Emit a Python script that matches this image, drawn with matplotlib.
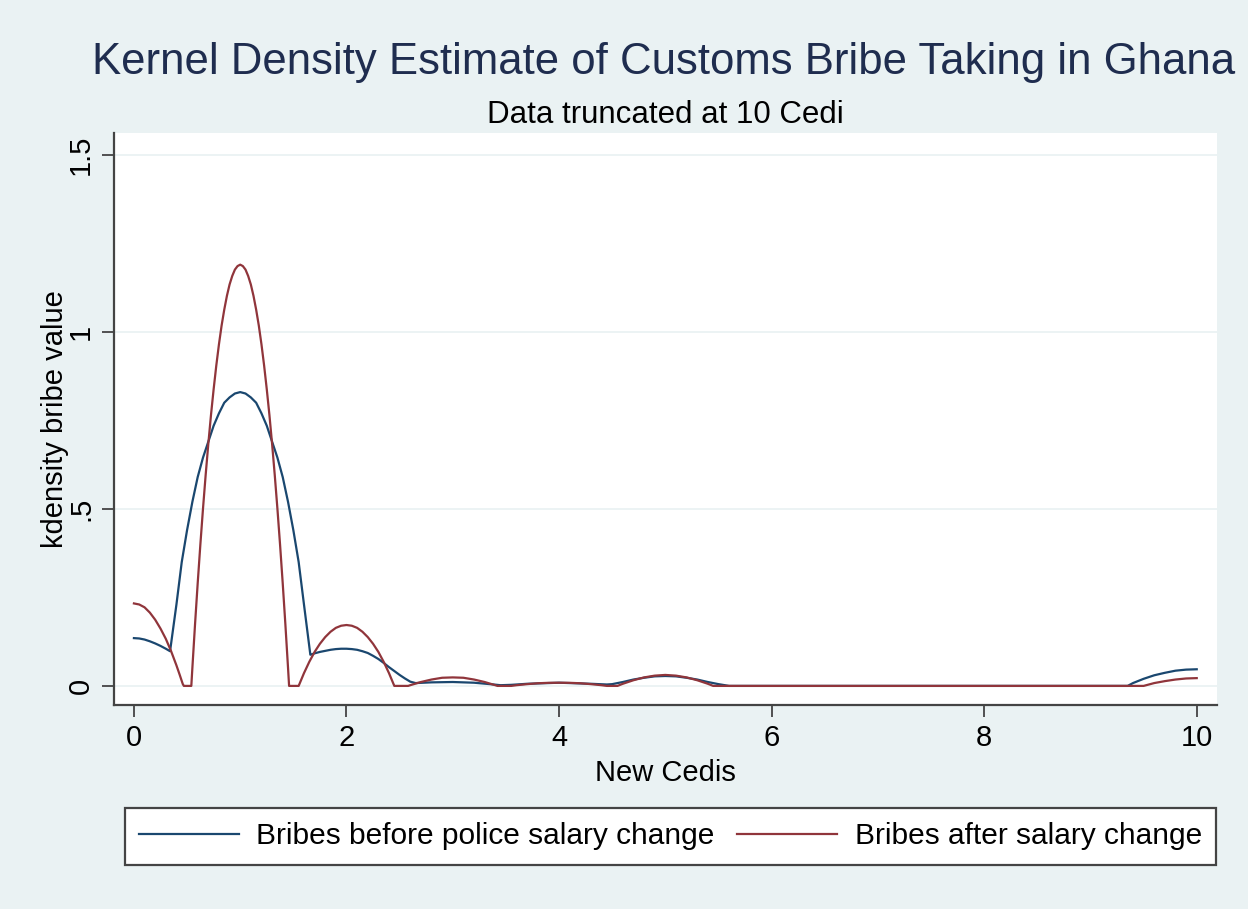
import matplotlib
matplotlib.use("Agg")
import matplotlib.pyplot as plt

plt.rcParams['font.family'] = ['Liberation Sans', 'DejaVu Sans']

title = "Kernel Density Estimate of Customs Bribe Taking in Ghana"
subtitle = "Data truncated at 10 Cedi"
x_label = "New Cedis"
y_label = "kdensity bribe value"
label_before = "Bribes before police salary change"
label_after = "Bribes after salary change"

x_ticks = [0, 2, 4, 6, 8, 10]
y_ticks = [0, 0.5, 1, 1.5]
y_tick_labels = ["0", ".5", "1", "1.5"]

# bribes before the salary change
x_before = [0.00, 0.05, 0.10, 0.15, 0.20, 0.25, 0.30, 0.34,
            0.40, 0.45, 0.50, 0.55, 0.60, 0.65, 0.70, 0.75, 0.80, 0.85, 0.90, 0.95,
            1.00, 1.05, 1.10, 1.15, 1.20, 1.25, 1.30, 1.35, 1.40, 1.45, 1.50, 1.55,
            1.60, 1.66, 1.70, 1.75, 1.80, 1.85, 1.90, 1.95, 2.00, 2.05, 2.10, 2.15,
            2.20, 2.25, 2.30, 2.35, 2.40, 2.45, 2.50, 2.55, 2.60, 2.65,
            2.80, 3.00, 3.20, 3.35, 3.45, 3.55, 3.70, 4.00, 4.30, 4.45,
            4.50, 4.60, 4.70, 4.80, 4.90, 5.00, 5.10, 5.20, 5.30, 5.40, 5.50, 5.60,
            9.35, 9.40, 9.50, 9.60, 9.70, 9.80, 9.90, 10.0]
y_before = [0.135, 0.134, 0.131, 0.126, 0.120, 0.113, 0.105, 0.098,
            0.23, 0.35, 0.44, 0.52, 0.59, 0.645, 0.69, 0.735, 0.77, 0.80, 0.815, 0.826,
            0.83, 0.826, 0.815, 0.80, 0.77, 0.735, 0.69, 0.645, 0.59, 0.52, 0.44, 0.35,
            0.23, 0.088, 0.092, 0.096, 0.099, 0.102, 0.104, 0.105, 0.105, 0.104, 0.102, 0.098,
            0.093, 0.085, 0.076, 0.065, 0.053, 0.042, 0.031, 0.021, 0.012, 0.008,
            0.010, 0.011, 0.009, 0.005, 0.002, 0.003, 0.006, 0.009, 0.006, 0.004,
            0.005, 0.011, 0.018, 0.023, 0.027, 0.028, 0.027, 0.023, 0.018, 0.011, 0.005, 0.0,
            0.0, 0.008, 0.020, 0.030, 0.037, 0.043, 0.046, 0.047]

# bribes after the salary change
x_after = [0.00, 0.05, 0.10, 0.15, 0.20, 0.25, 0.30, 0.35, 0.40, 0.43, 0.46, 0.47,
           0.54, 0.55, 0.575, 0.60, 0.625, 0.65, 0.675, 0.70, 0.725, 0.75, 0.775,
           0.80, 0.825, 0.85, 0.875, 0.90, 0.925, 0.95, 0.975, 1.00, 1.025, 1.05,
           1.075, 1.10, 1.125, 1.15, 1.175, 1.20, 1.225, 1.25, 1.275, 1.30, 1.325,
           1.35, 1.375, 1.40, 1.425, 1.45, 1.46,
           1.55, 1.60, 1.65, 1.70, 1.75, 1.80, 1.85, 1.90, 1.95, 2.00, 2.05, 2.10,
           2.15, 2.20, 2.25, 2.30, 2.35, 2.40, 2.45,
           2.58, 2.60, 2.70, 2.80, 2.90, 3.00, 3.10, 3.20, 3.30, 3.40, 3.42,
           3.55, 3.60, 3.70, 3.80, 3.90, 4.00, 4.10, 4.20, 4.30, 4.40, 4.45,
           4.55, 4.60, 4.70, 4.80, 4.90, 5.00, 5.10, 5.20, 5.30, 5.40, 5.45,
           9.50, 9.55, 9.60, 9.70, 9.80, 9.90, 10.0]
y_after = [0.233, 0.230, 0.222, 0.207, 0.187, 0.162, 0.133, 0.098, 0.058, 0.032, 0.005, 0.0,
           0.0, 0.051, 0.174, 0.290, 0.399, 0.501, 0.596, 0.684, 0.765, 0.838, 0.905,
           0.965, 1.018, 1.063, 1.102, 1.134, 1.158, 1.176, 1.186, 1.19, 1.186, 1.176,
           1.158, 1.134, 1.102, 1.063, 1.018, 0.965, 0.905, 0.838, 0.765, 0.684, 0.596,
           0.501, 0.399, 0.290, 0.174, 0.051, 0.0,
           0.0, 0.036, 0.068, 0.096, 0.119, 0.138, 0.153, 0.164, 0.170, 0.172, 0.170, 0.164,
           0.153, 0.138, 0.119, 0.096, 0.068, 0.036, 0.0,
           0.0, 0.002, 0.011, 0.018, 0.023, 0.024, 0.023, 0.018, 0.011, 0.002, 0.0,
           0.0, 0.002, 0.005, 0.0075, 0.0087, 0.009, 0.0087, 0.0075, 0.005, 0.002, 0.0,
           0.0, 0.006, 0.016, 0.024, 0.029, 0.031, 0.029, 0.024, 0.016, 0.006, 0.0,
           0.0, 0.004, 0.008, 0.0135, 0.018, 0.021, 0.022]

bg = '#EAF2F3'
navy = '#1a476f'
maroon = '#90353b'
axis_col = '#444444'

fig = plt.figure(figsize=(12.48, 9.09), dpi=100, facecolor=bg)
ax = fig.add_axes([0.0913, 0.2244, 0.8838, 0.6293])
ax.set_facecolor('white')

for y in y_ticks:
    ax.axhline(y, color=bg, linewidth=1.3, zorder=0)

ax.plot(x_before, y_before, color=navy, linewidth=1.6, label=label_before)
ax.plot(x_after, y_after, color=maroon, linewidth=1.6, label=label_after)

ax.set_xlim(-0.188, 10.19)
ax.set_ylim(-0.054, 1.562)

ax.spines['top'].set_visible(False)
ax.spines['right'].set_visible(False)
for s in ['left', 'bottom']:
    ax.spines[s].set_color(axis_col)
    ax.spines[s].set_linewidth(1.6)

ax.set_xticks(x_ticks)
ax.set_yticks(y_ticks)
ax.set_yticklabels(y_tick_labels, rotation=90, va='center')
ax.tick_params(axis='both', direction='out', length=8.5, width=1.3, color=axis_col,
               labelsize=21, pad=5)

ax.set_xlabel(x_label, fontsize=21, va='center')
ax.xaxis.set_label_coords(0.5, -0.119)
ax.set_ylabel(y_label, fontsize=21, va='center')
ax.yaxis.set_label_coords(-0.0535, 0.5)

fig.text(0.532, 1 - 74 / 909, title, ha='center', va='baseline', fontsize=31.5, color='#1f2d4f')
fig.text(0.533, 1 - 123 / 909, subtitle, ha='center', va='baseline', fontsize=22.5, color='black')

leg = fig.legend(loc='center left', bbox_to_anchor=(125 / 1248, 1 - 836.5 / 909), ncol=2,
                 fontsize=21.5, frameon=True, fancybox=False, framealpha=1,
                 edgecolor=axis_col, handlelength=3.35, handletextpad=0.57,
                 columnspacing=0.77, borderpad=0.47, borderaxespad=0)
leg.get_frame().set_linewidth(1.6)

fig.savefig('out.png', dpi=100, facecolor=bg)
